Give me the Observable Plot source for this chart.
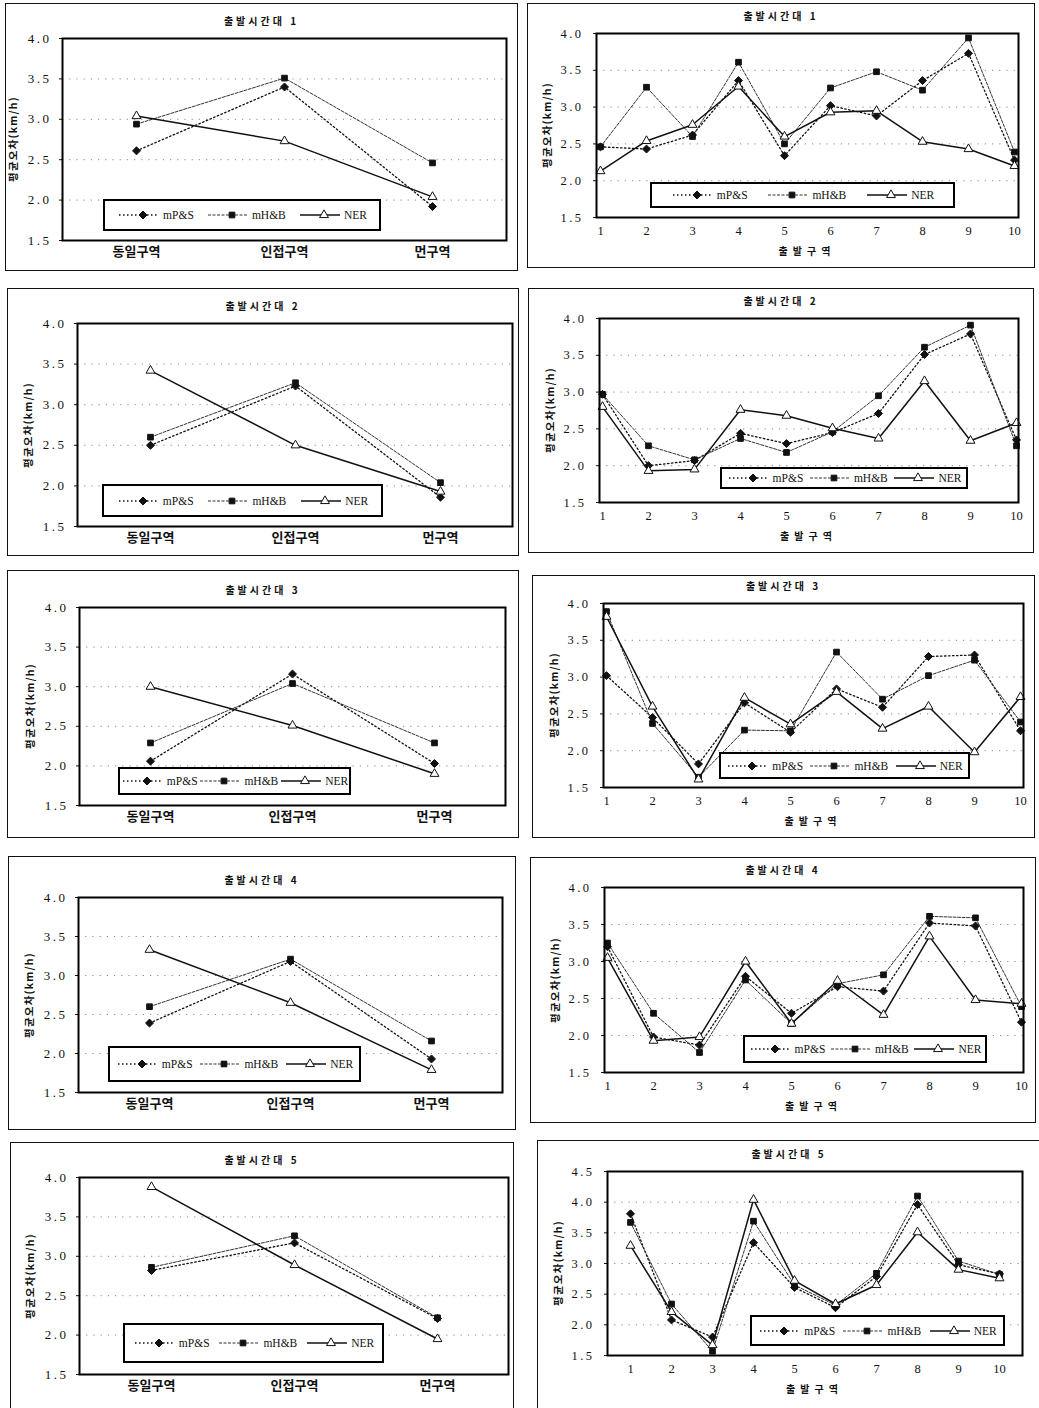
<!DOCTYPE html>
<html>
<head>
<meta charset="utf-8">
<script src="https://cdn.jsdelivr.net/npm/d3@7"></script>
<script src="https://cdn.jsdelivr.net/npm/@observablehq/plot@0.6"></script>
<style>
  body { margin: 0; background: #fff; }
  #root { position: relative; width: 1039px; height: 1408px; overflow: hidden; background: #fff; }
  .panel { position: absolute; }
  .panel > svg { position: absolute; left: 0; top: 0; }
  .border { position: absolute; left: 0; top: 0; right: 0; bottom: 0; border: 1.5px solid #111; box-sizing: border-box; pointer-events: none; }
  .title { position: absolute; transform: translate(-50%, -50%); white-space: nowrap;
           font: bold 10px "Noto Sans CJK KR", sans-serif; letter-spacing: 3px; color: #111; }
  .ylab { position: absolute; transform: translate(-50%, -50%) rotate(-90deg); white-space: nowrap;
          font: bold 10.5px "Noto Sans CJK KR", sans-serif; letter-spacing: 1.2px; color: #111; }
  .xlab { position: absolute; transform: translate(-50%, -50%); white-space: nowrap;
          font: bold 10px "Noto Sans CJK KR", sans-serif; letter-spacing: 5px; color: #111; }
  .legend { position: absolute; border: 2px solid #000; box-sizing: border-box; background: #fff;
            display: flex; align-items: center; justify-content: space-evenly; }
  .legend .item { display: flex; align-items: center; gap: 2px;
                  font: 11.5px "Liberation Serif", serif; color: #111; }
</style>
</head>
<body>
<div id="root"></div>
<script>
// ---------- data ----------
const zoneLabels = ["동일구역", "인접구역", "먼구역"];
const originLabels = [1, 2, 3, 4, 5, 6, 7, 8, 9, 10];
const yTicksA = [1.5, 2.0, 2.5, 3.0, 3.5, 4.0];
const yTicksB = [1.5, 2.0, 2.5, 3.0, 3.5, 4.0, 4.5];
const seriesNames = ["mP&S", "mH&B", "NER"];
const periodTitles = ["출발시간대 1", "출발시간대 2", "출발시간대 3", "출발시간대 4", "출발시간대 5"];
const yTitle = "평균오차(km/h)";
const xTitleOrigin = "출발구역";

// left column: error by zone relation
const zone1_mPS = [2.61, 3.40, 1.92];
const zone1_mHB = [2.94, 3.51, 2.46];
const zone1_NER = [3.04, 2.73, 2.04];
const zone2_mPS = [2.50, 3.23, 1.86];
const zone2_mHB = [2.60, 3.27, 2.04];
const zone2_NER = [3.42, 2.50, 1.93];
const zone3_mPS = [2.06, 3.16, 2.03];
const zone3_mHB = [2.29, 3.04, 2.29];
const zone3_NER = [3.00, 2.51, 1.90];
const zone4_mPS = [2.39, 3.18, 1.93];
const zone4_mHB = [2.60, 3.21, 2.16];
const zone4_NER = [3.33, 2.65, 1.79];
const zone5_mPS = [2.82, 3.17, 2.21];
const zone5_mHB = [2.86, 3.26, 2.22];
const zone5_NER = [3.88, 2.89, 1.95];

// right column: error by origin zone 1..10
const origin1_mPS = [2.46, 2.43, 2.62, 3.36, 2.34, 3.02, 2.88, 3.36, 3.73, 2.28];
const origin1_mHB = [2.46, 3.27, 2.60, 3.61, 2.50, 3.26, 3.48, 3.23, 3.94, 2.39];
const origin1_NER = [2.13, 2.54, 2.76, 3.28, 2.60, 2.93, 2.95, 2.53, 2.43, 2.20];
const origin2_mPS = [2.97, 2.00, 2.07, 2.44, 2.30, 2.45, 2.71, 3.51, 3.79, 2.35];
const origin2_mHB = [2.97, 2.27, 2.08, 2.37, 2.18, 2.46, 2.95, 3.61, 3.91, 2.27];
const origin2_NER = [2.80, 1.93, 1.95, 2.76, 2.68, 2.51, 2.37, 3.15, 2.34, 2.58];
const origin3_mPS = [3.02, 2.45, 1.82, 2.65, 2.25, 2.84, 2.59, 3.28, 3.30, 2.27];
const origin3_mHB = [3.89, 2.37, 1.64, 2.28, 2.27, 3.34, 2.70, 3.02, 3.23, 2.39];
const origin3_NER = [3.82, 2.60, 1.61, 2.72, 2.36, 2.80, 2.30, 2.60, 1.98, 2.73];
const origin4_mPS = [3.20, 1.98, 1.87, 2.80, 2.30, 2.66, 2.60, 3.52, 3.48, 2.18];
const origin4_mHB = [3.25, 2.30, 1.77, 2.75, 2.16, 2.70, 2.82, 3.61, 3.59, 2.39];
const origin4_NER = [3.05, 1.93, 1.98, 3.00, 2.16, 2.74, 2.28, 3.34, 2.48, 2.43];
const origin5_mPS = [3.81, 2.08, 1.80, 3.34, 2.61, 2.28, 2.79, 3.96, 2.98, 2.83];
const origin5_mHB = [3.67, 2.34, 1.57, 3.69, 2.65, 2.32, 2.84, 4.10, 3.04, 2.82];
const origin5_NER = [3.29, 2.21, 1.67, 4.04, 2.72, 2.34, 2.65, 3.51, 2.90, 2.76];

// ---------- layout (pixel boxes: x0, y0, x1, y1) ----------
const panels = [
  {kind: "zone", t: 0, box: [5, 3, 518, 271], plot: [62, 38, 506, 240], legend: [103, 199, 381, 231], series: [zone1_mPS, zone1_mHB, zone1_NER]},
  {kind: "zone", t: 1, box: [7, 288, 519, 556], plot: [77, 323, 512, 526], legend: [102, 484, 383, 517], series: [zone2_mPS, zone2_mHB, zone2_NER]},
  {kind: "zone", t: 2, box: [7, 570, 519, 838], plot: [79, 607, 505, 805], legend: [118, 767, 351, 795], series: [zone3_mPS, zone3_mHB, zone3_NER]},
  {kind: "zone", t: 3, box: [8, 856, 516, 1130], plot: [78, 897, 502, 1092], legend: [108, 1046, 361, 1082], series: [zone4_mPS, zone4_mHB, zone4_NER]},
  {kind: "zone", t: 4, box: [10, 1142, 514, 1412], plot: [79, 1177, 508, 1374], legend: [123, 1323, 384, 1363], series: [zone5_mPS, zone5_mHB, zone5_NER]},
  {kind: "origin", t: 0, box: [527, 3, 1035, 268], plot: [596, 33, 1018, 217], legend: [650, 182, 955, 208], series: [origin1_mPS, origin1_mHB, origin1_NER]},
  {kind: "origin", t: 1, box: [528, 288, 1034, 553], plot: [599, 318, 1018, 502], legend: [720, 467, 968, 489], series: [origin2_mPS, origin2_mHB, origin2_NER]},
  {kind: "origin", t: 2, box: [532, 575, 1035, 838], plot: [603, 603, 1023, 787], legend: [719, 752, 970, 779], series: [origin3_mPS, origin3_mHB, origin3_NER]},
  {kind: "origin", t: 3, box: [530, 857, 1036, 1123], plot: [604, 887, 1023, 1072], legend: [743, 1035, 987, 1063], series: [origin4_mPS, origin4_mHB, origin4_NER]},
  {kind: "origin", t: 4, box: [537, 1140, 1041, 1412], plot: [607, 1171, 1022, 1355], legend: [750, 1315, 1005, 1346], series: [origin5_mPS, origin5_mHB, origin5_NER], wide: true},
];

const styles = [
  {dash: "1.5,2.5", width: 1.3, stroke: "#111", symbol: "diamond2", fill: "#111", r: 3.6},
  {dash: "3,1.5", width: 1, stroke: "#333", symbol: "square", fill: "#111", r: 3.2},
  {dash: null, width: 1.5, stroke: "#111", symbol: "triangle", fill: "#fff", r: 3.3},
];
const symMap = {diamond2: d3.symbolDiamond2, square: d3.symbolSquare, triangle: d3.symbolTriangle};

const root = document.getElementById("root");

function legendSample(i) {
  const s = styles[i];
  const ns = "http://www.w3.org/2000/svg";
  const svg = document.createElementNS(ns, "svg");
  svg.setAttribute("width", 44); svg.setAttribute("height", 12);
  const line = document.createElementNS(ns, "line");
  line.setAttribute("x1", 2); line.setAttribute("x2", 42);
  line.setAttribute("y1", 6); line.setAttribute("y2", 6);
  line.setAttribute("stroke", s.stroke); line.setAttribute("stroke-width", s.width);
  if (s.dash) line.setAttribute("stroke-dasharray", s.dash);
  svg.appendChild(line);
  const p = document.createElementNS(ns, "path");
  p.setAttribute("d", d3.symbol(symMap[s.symbol], Math.PI * s.r * s.r)());
  p.setAttribute("transform", "translate(26,6)");
  p.setAttribute("fill", s.fill); p.setAttribute("stroke", "#111"); p.setAttribute("stroke-width", 1);
  svg.appendChild(p);
  return svg;
}

for (const P of panels) {
  const [bx0, by0, bx1, by1] = P.box;
  const [px0, py0, px1, py1] = P.plot;
  const W = bx1 - bx0, H = by1 - by0;
  const isZone = P.kind === "zone";
  const cats = isZone ? zoneLabels : originLabels;
  const yTicks = P.wide ? yTicksB : yTicksA;
  const rows = [];
  P.series.forEach((vals, si) => vals.forEach((v, i) => rows.push({s: si, x: cats[i], y: v})));

  const marks = [
    Plot.ruleY(yTicks.slice(1, -1), {stroke: "#888", strokeDasharray: "1.2,6", strokeWidth: 1}),
    Plot.axisY({ticks: yTicks, tickFormat: d => d.toFixed(1), tickSize: 3, tickPadding: isZone ? 8 : 10,
                fontSize: isZone ? 13 : 12.5, label: null}),
    Plot.axisX({tickSize: 0, tickPadding: isZone ? 6 : 9, fontSize: isZone ? 13 : 12.5,
                fontWeight: isZone ? "bold" : "normal", label: null}),
  ];
  styles.forEach((st, si) => {
    const d = rows.filter(r => r.s === si);
    marks.push(Plot.line(d, {x: "x", y: "y", stroke: st.stroke, strokeWidth: st.width, strokeDasharray: st.dash || undefined}));
  });
  styles.forEach((st, si) => {
    const d = rows.filter(r => r.s === si);
    marks.push(Plot.dot(d, {x: "x", y: "y", symbol: st.symbol, r: st.r, fill: st.fill, stroke: "#111", strokeWidth: 1}));
  });
  marks.push(Plot.frame({stroke: "#000", strokeWidth: 2}));

  const chart = Plot.plot({
    width: W, height: H,
    marginLeft: px0 - bx0, marginRight: bx1 - px1, marginTop: py0 - by0, marginBottom: by1 - py1,
    style: {fontFamily: '"Liberation Serif", "Noto Sans CJK KR", serif', fontSize: isZone ? "13px" : "12.5px",
            color: "#111", background: "transparent"},
    x: {type: "point", domain: cats, padding: isZone ? 0.5 : (P.wide ? 0.52 : 0)},
    y: {domain: [yTicks[0], yTicks[yTicks.length - 1]]},
    marks
  });
  // wide letter spacing of the y tick numbers, as in the scanned original
  chart.querySelectorAll('g[aria-label="y-axis tick label"]').forEach(g => { g.style.letterSpacing = "2.5px"; });

  const div = document.createElement("div");
  div.className = "panel";
  Object.assign(div.style, {left: bx0 + "px", top: by0 + "px", width: W + "px", height: H + "px"});
  div.appendChild(chart);
  const border = document.createElement("div"); border.className = "border"; div.appendChild(border);

  const title = document.createElement("div");
  title.className = "title"; title.textContent = periodTitles[P.t];
  Object.assign(title.style, {left: ((bx0 + bx1) / 2 - bx0) + "px", top: (py0 - 18 - by0) + "px"});
  div.appendChild(title);

  const yl = document.createElement("div");
  yl.className = "ylab"; yl.textContent = yTitle;
  Object.assign(yl.style, {left: (px0 - 50 - bx0) + "px", top: ((py0 + py1) / 2 - by0) + "px"});
  div.appendChild(yl);

  if (!isZone) {
    const xl = document.createElement("div");
    xl.className = "xlab"; xl.textContent = xTitleOrigin;
    Object.assign(xl.style, {left: ((px0 + px1) / 2 - bx0) + "px", top: (py1 + 33 - by0) + "px"});
    div.appendChild(xl);
  }

  const [lx0, ly0, lx1, ly1] = P.legend;
  const lg = document.createElement("div");
  lg.className = "legend";
  Object.assign(lg.style, {left: (lx0 - bx0) + "px", top: (ly0 - by0) + "px", width: (lx1 - lx0) + "px", height: (ly1 - ly0) + "px"});
  seriesNames.forEach((name, i) => {
    const it = document.createElement("div"); it.className = "item";
    it.appendChild(legendSample(i));
    const sp = document.createElement("span"); sp.textContent = name; it.appendChild(sp);
    lg.appendChild(it);
  });
  div.appendChild(lg);

  root.appendChild(div);
}
</script>
</body>
</html>
